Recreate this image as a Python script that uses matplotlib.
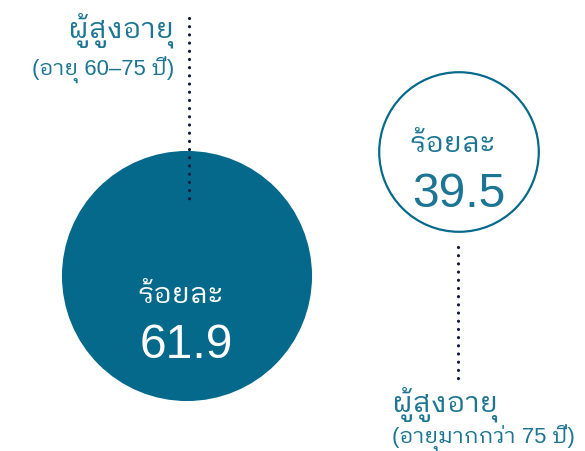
import matplotlib
matplotlib.use("Agg")
import matplotlib.pyplot as plt
from matplotlib.patches import Circle

# Share of elderly people by age group (percent)
groups = ["ผู้สูงอายุ", "ผู้สูงอายุ"]
subtitles = ["(อายุ 60–75 ปี)", "(อายุมากกว่า 75 ปี)"]
unit_label = "ร้อยละ"
values = [61.9, 39.5]

TEAL = "#05698c"
TEXT_TEAL = "#1b7593"
DOT = "#0d1b3a"
FONTS = ["Liberation Sans", "IBM Plex Sans Thai Looped"]
WEIGHT = "normal"

W, H, DPI = 585, 452, 100
fig = plt.figure(figsize=(W / DPI, H / DPI), dpi=DPI)
ax = fig.add_axes([0, 0, 1, 1])
ax.set_xlim(0, W)
ax.set_ylim(H, 0)
ax.set_aspect("equal")
ax.axis("off")


def pt(px):
    return px * 72 / DPI


# radius proportional to the percentage
scale = 2.02
centers = [(187, 277), (459, 153)]
radii = [v * scale for v in values]

# filled circle for the first group, outlined one for the second
ax.add_patch(Circle(centers[0], radii[0], facecolor=TEAL, edgecolor="none", zorder=1))
ax.add_patch(Circle(centers[1], radii[1], facecolor="white", edgecolor=TEAL,
                    linewidth=pt(2.2), zorder=1))

# dotted leader lines
dot_style = dict(color=DOT, linewidth=pt(3.2), linestyle=(0, (0.01, 2.55)),
                 dash_capstyle="round", zorder=3)
x1 = centers[0][0] + 2
ax.plot([x1, x1], [19, centers[0][1] - radii[0] + 53], **dot_style)
x2 = centers[1][0] - 1
ax.plot([x2, x2], [centers[1][1] + radii[1] + 15, 385], **dot_style)

# values inside the circles
num_size = pt(48)
unit_size = pt(29)
inner_colors = ["white", TEXT_TEAL]
inner_left = [137, 409]
unit_offset = [26, -1]
num_offset = [81, 54]
for (cx, cy), v, xl, col, uo, no in zip(centers, values, inner_left, inner_colors,
                                       unit_offset, num_offset):
    ax.text(xl, cy + uo, unit_label, color=col, fontsize=unit_size, family=FONTS,
            weight=WEIGHT, ha="left", va="baseline", zorder=4)
    ax.text(cx - 0.5, cy + no, f"{v:.1f}", color=col, fontsize=num_size,
            family=FONTS, weight=WEIGHT, ha="center", va="baseline", zorder=4)

# group labels
title_size = pt(29)
sub_size = pt(22)
ax.text(174, 38, groups[0], color=TEXT_TEAL, fontsize=title_size, family=FONTS,
        weight=WEIGHT, ha="right", va="baseline")
ax.text(174, 76, subtitles[0], color=TEXT_TEAL, fontsize=sub_size, family=FONTS,
        weight=WEIGHT, ha="right", va="baseline")
ax.text(392, 412, groups[1], color=TEXT_TEAL, fontsize=title_size, family=FONTS,
        weight=WEIGHT, ha="left", va="baseline")
ax.text(392, 444, subtitles[1], color=TEXT_TEAL, fontsize=sub_size, family=FONTS,
        weight=WEIGHT, ha="left", va="baseline")

fig.savefig("out.png", dpi=DPI)
